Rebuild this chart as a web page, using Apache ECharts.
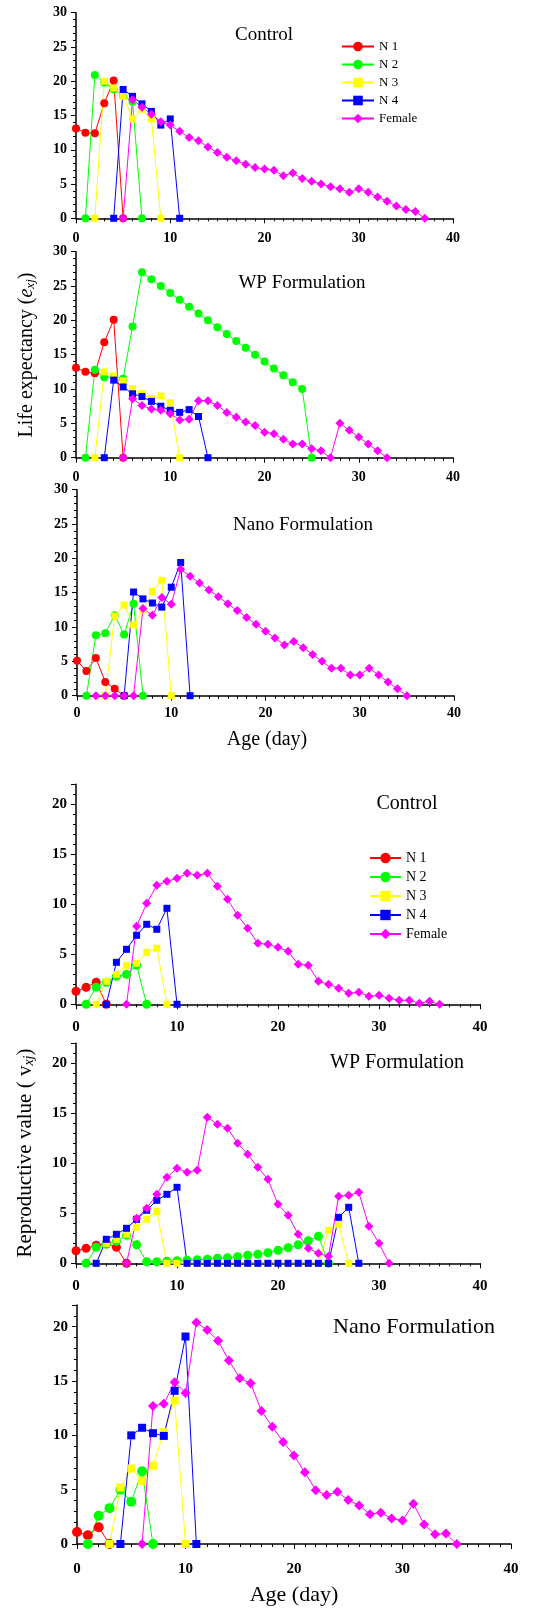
<!DOCTYPE html>
<html>
<head>
<meta charset="utf-8">
<style>
  html, body { margin: 0; padding: 0; background: #fff; }
  #main { width: 548px; height: 1608px; }
</style>
</head>
<body>
<div id="main"></div>
<script src="https://cdn.jsdelivr.net/npm/echarts@6/dist/echarts.min.js"></script>
<script>
  // values indexed by age (day); null = no point at that age
  const names = ['N 1', 'N 2', 'N 3', 'N 4', 'Female'];
  const colors = ['#ff0000', '#00ff00', '#ffff00', '#0000ff', '#ff00ff'];
  const symbols = ['circle', 'circle', 'rect', 'rect', 'diamond'];
  const xTicks = [0, 10, 20, 30, 40];

  // Life expectancy - Control
  const leCtrlN1 = [13.1, 12.5, 12.4, 16.8, 20.1, 0];
  const leCtrlN2 = [null, 0, 20.9, 19.8, 18.8, 17.9, 17.0, 0];
  const leCtrlN3 = [null, null, 0, 20.0, 19.0, 17.8, 14.5, 15.9, 14.5, 0];
  const leCtrlN4 = [null, null, null, null, 0, 18.8, 17.8, 16.7, 15.6, 13.6, 14.5, 0];
  const leCtrlF = [null, null, null, null, null, 0, 17.3, 16.2, 15.2, 14.1, 13.6, 12.7, 11.8, 11.3, 10.4, 9.6, 8.9, 8.4, 7.9, 7.4, 7.2, 7.0, 6.2, 6.6, 5.8, 5.4, 5.0, 4.6, 4.3, 3.8, 4.3, 3.8, 3.1, 2.5, 1.8, 1.3, 1.0, 0];

  // Life expectancy - WP Formulation
  const leWpN1 = [13.1, 12.5, 12.3, 16.8, 20.1, 0];
  const leWpN2 = [null, 0, 12.8, 11.7, 11.8, 11.5, 19.1, 27, 26, 25, 24, 23, 22, 21, 20, 19, 18, 17, 16, 15, 14, 13, 12, 11, 10, 0];
  const leWpN3 = [null, null, 0, 12.5, 11.9, 11.2, 10.0, 9.3, 8.6, 9.0, 8.0, 0];
  const leWpN4 = [null, null, null, 0, 11.3, 10.3, 9.3, 8.9, 8.2, 7.5, 6.9, 6.6, 7.0, 6.0, 0];
  const leWpF = [null, null, null, null, null, 0, 8.6, 7.6, 7.1, 6.9, 6.4, 5.5, 5.6, 8.3, 8.3, 7.6, 6.6, 5.9, 5.2, 4.7, 3.7, 3.5, 2.7, 2.0, 2.0, 1.3, 1.0, 0, 5.0, 4.0, 3.0, 2.0, 1.0, 0];

  // Life expectancy - Nano Formulation
  const leNanoN1 = [5.1, 3.6, 5.5, 2.0, 1.0, 0];
  const leNanoN2 = [null, 0, 8.8, 9.1, 11.7, 8.9, 13.4, 0];
  const leNanoN3 = [null, null, null, 0, 11.6, 13.2, 10.3, 12.5, 15.2, 16.8, 0];
  const leNanoN4 = [null, null, null, null, null, 0, 15.1, 14.1, 13.5, 12.9, 15.8, 19.4, 0];
  const leNanoF = [null, null, 0, 0, 0, 0, 0, 12.7, 11.7, 14.3, 13.3, 18.4, 17.4, 16.4, 15.4, 14.4, 13.4, 12.4, 11.4, 10.4, 9.4, 8.4, 7.4, 7.9, 7.0, 6.0, 5.0, 4.0, 4.0, 3.0, 3.0, 4.0, 3.0, 2.0, 1.0, 0];

  // Reproductive value - Control
  const rvCtrlN1 = [1.3, 1.7, 2.2, 0];
  const rvCtrlN2 = [null, 0, 1.7, 2.2, 2.8, 3.0, 3.9, 0];
  const rvCtrlN3 = [null, null, 0, 2.3, 3.0, 3.9, 4.1, 5.2, 5.6, 0];
  const rvCtrlN4 = [null, null, null, 0, 4.2, 5.5, 6.9, 8.0, 7.5, 9.6, 0];
  const rvCtrlF = [null, null, null, null, null, 0, 7.8, 10.1, 11.9, 12.3, 12.6, 13.1, 12.9, 13.1, 11.8, 10.5, 8.9, 7.6, 6.1, 6.0, 5.7, 5.3, 4.0, 3.9, 2.3, 2.0, 1.6, 1.1, 1.2, 0.8, 0.9, 0.6, 0.4, 0.4, 0.1, 0.3, 0];

  // Reproductive value - WP Formulation
  const rvWpN1 = [1.25, 1.5, 1.8, 2.0, 1.6, 0];
  const rvWpN2 = [null, 0, 1.6, 1.9, 2.2, 2.8, 1.85, 0.15, 0.15, 0.2, 0.25, 0.3, 0.35, 0.4, 0.5, 0.55, 0.65, 0.8, 0.9, 1.05, 1.3, 1.55, 1.85, 2.25, 2.7, 0];
  const rvWpN3 = [null, null, 0, 2.0, 2.4, 2.9, 3.6, 4.4, 5.2, 0, 0, 0, 0, 0, 0, 0, 0, 0, 0, 0, 0, 0, 0, 0, 0, 3.3, 3.9, 0];
  const rvWpN4 = [null, null, 0, 2.4, 2.9, 3.5, 4.4, 5.3, 6.3, 6.9, 7.6, 0, 0, 0, 0, 0, 0, 0, 0, 0, 0, 0, 0, 0, 0, 0, 4.6, 5.6, 0];
  const rvWpF = [null, null, null, null, null, 0, 4.5, 5.5, 6.9, 8.6, 9.5, 9.1, 9.3, 14.6, 13.9, 13.5, 12.0, 10.9, 9.6, 8.4, 5.9, 4.8, 2.9, 1.5, 1.0, 0.7, 6.7, 6.8, 7.1, 3.7, 2.0, 0];

  // Reproductive value - Nano Formulation
  const rvNanoN1 = [1.1, 0.8, 1.55, 0];
  const rvNanoN2 = [null, 0, 2.6, 3.3, 5.0, 3.9, 6.7, 0];
  const rvNanoN3 = [null, null, null, 0, 5.2, 6.95, 5.8, 7.2, 10.3, 13.2, 0];
  const rvNanoN4 = [null, null, null, null, 0, 10.0, 10.7, 10.2, 9.95, 14.1, 19.1, 0];
  const rvNanoF = [null, null, null, null, null, null, 0, 12.7, 12.9, 14.9, 13.9, 20.4, 19.7, 18.7, 16.9, 15.25, 14.8, 12.25, 10.8, 9.4, 8.15, 6.6, 4.95, 4.5, 4.8, 4.05, 3.55, 2.75, 2.87, 2.35, 2.16, 3.7, 1.8, 0.9, 0.96, 0];

  const serif = "'Liberation Serif', 'Times New Roman', serif";

  const panels = [
    { box: [76, 12.7, 377, 205.6], ymax: 30, sets: [leCtrlN1, leCtrlN2, leCtrlN3, leCtrlN4, leCtrlF], title: 'Control', tx: 264, ty: 35, ts: 19, sz: [8, 8, 7, 7, 9], font: 14, xm: 13 },
    { box: [76, 251.7, 377, 206], ymax: 30, sets: [leWpN1, leWpN2, leWpN3, leWpN4, leWpF], title: 'WP Formulation', tx: 302, ty: 283, ts: 19, sz: [8, 8, 7, 7, 9], font: 14, xm: 13 },
    { box: [77, 489.7, 377, 206], ymax: 30, sets: [leNanoN1, leNanoN2, leNanoN3, leNanoN4, leNanoF], title: 'Nano Formulation', tx: 303, ty: 525, ts: 19, sz: [8, 8, 7, 7, 9], font: 14, xm: 11 },
    { box: [76, 784.3, 404, 220], ymax: 22, sets: [rvCtrlN1, rvCtrlN2, rvCtrlN3, rvCtrlN4, rvCtrlF], title: 'Control', tx: 407, ty: 804, ts: 20, sz: [9, 9, 7, 7, 9], font: 15, xm: 15 },
    { box: [76, 1043.3, 404, 220], ymax: 22, sets: [rvWpN1, rvWpN2, rvWpN3, rvWpN4, rvWpF], title: 'WP Formulation', tx: 397, ty: 1063, ts: 20, sz: [9, 9, 7, 7, 9], font: 15, xm: 15 },
    { box: [77, 1305, 434, 239], ymax: 22, sets: [rvNanoN1, rvNanoN2, rvNanoN3, rvNanoN4, rvNanoF], title: 'Nano Formulation', tx: 414, ty: 1327, ts: 22, sz: [10, 10, 8, 8, 10], font: 15, xm: 18 }
  ];

  const grid = [], xAxis = [], yAxis = [], series = [], graphic = [];

  panels.forEach(function (p, k) {
    grid.push({ left: p.box[0], top: p.box[1], width: p.box[2], height: p.box[3] });
    const tickStyle = { color: '#000', width: 1 };
    xAxis.push({
      gridIndex: k, type: 'value', min: 0, max: 40, interval: 10,
      axisLine: { onZero: false, lineStyle: { color: '#000', width: 1.5 } },
      axisTick: { length: 5, lineStyle: tickStyle },
      minorTick: { show: true, splitNumber: 10, length: 3, lineStyle: tickStyle },
      splitLine: { show: false },
      axisLabel: { margin: p.xm, color: '#000', fontWeight: 'bold', fontSize: p.font, fontFamily: serif,
        formatter: function (v) { return xTicks.indexOf(v) >= 0 ? String(v) : ''; } }
    });
    yAxis.push({
      gridIndex: k, type: 'value', min: 0, max: p.ymax, interval: 5,
      axisLine: { show: true, lineStyle: { color: '#000', width: 1.5 } },
      axisTick: { show: true, length: 5, lineStyle: tickStyle },
      minorTick: { show: true, splitNumber: 5, length: 3, lineStyle: tickStyle },
      splitLine: { show: false },
      axisLabel: { margin: 9, color: '#000', fontWeight: 'bold', fontSize: p.font, fontFamily: serif,
        formatter: function (v) { return v % 5 === 0 ? String(v) : ''; } }
    });
    p.sets.forEach(function (arr, j) {
      series.push({
        name: names[j], type: 'line', xAxisIndex: k, yAxisIndex: k,
        data: arr.map(function (v, i) { return [i, v]; }).filter(function (d) { return d[1] !== null; }),
        symbol: symbols[j], symbolSize: p.sz[j], showAllSymbol: true,
        lineStyle: { color: colors[j], width: 1 },
        itemStyle: { color: colors[j] },
        emphasis: { disabled: true },
        animation: false
      });
    });
    graphic.push({
      type: 'text', x: p.tx, y: p.ty, silent: true,
      style: { text: p.title, align: 'center', verticalAlign: 'middle', fontSize: p.ts, fontFamily: serif, fill: '#000' }
    });
  });

  // axis titles
  graphic.push(
    { type: 'text', x: 267, y: 740, silent: true,
      style: { text: 'Age (day)', align: 'center', verticalAlign: 'middle', fontSize: 20, fontFamily: serif, fill: '#000' } },
    { type: 'text', x: 294, y: 1595, silent: true,
      style: { text: 'Age (day)', align: 'center', verticalAlign: 'middle', fontSize: 22, fontFamily: serif, fill: '#000' } },
    { type: 'text', x: 27, y: 355, rotation: Math.PI / 2, silent: true,
      style: { text: 'Life expectancy ({e|e}{s|xj})', align: 'center', verticalAlign: 'middle', fontSize: 20, fontFamily: serif, fill: '#000',
        rich: { e: { fontStyle: 'italic', fontSize: 20, fontFamily: serif }, s: { fontStyle: 'italic', fontSize: 13, fontFamily: serif, padding: [8, 0, 0, 0] } } } },
    { type: 'text', x: 25, y: 1153, rotation: Math.PI / 2, silent: true,
      style: { text: 'Reproductive value ( v{s|xj})', align: 'center', verticalAlign: 'middle', fontSize: 21, fontFamily: serif, fill: '#000',
        rich: { s: { fontStyle: 'italic', fontSize: 14, fontFamily: serif, padding: [8, 0, 0, 0] } } } }
  );

  const legendBase = {
    orient: 'vertical', data: names, padding: 0, selectedMode: false,
    textStyle: { color: '#000', fontFamily: serif }
  };

  const option = {
    backgroundColor: '#fff',
    animation: false,
    grid: grid,
    xAxis: xAxis,
    yAxis: yAxis,
    legend: [
      Object.assign({}, legendBase, { left: 341, top: 40, itemWidth: 32, itemHeight: 12, itemGap: 5, textStyle: Object.assign({}, legendBase.textStyle, { fontSize: 13 }) }),
      Object.assign({}, legendBase, { left: 369, top: 851, itemWidth: 31, itemHeight: 13, itemGap: 5, textStyle: Object.assign({}, legendBase.textStyle, { fontSize: 14 }) })
    ],
    graphic: graphic,
    series: series
  };

  const chart = echarts.init(document.getElementById('main'));
  chart.setOption(option);
</script>
</body>
</html>
